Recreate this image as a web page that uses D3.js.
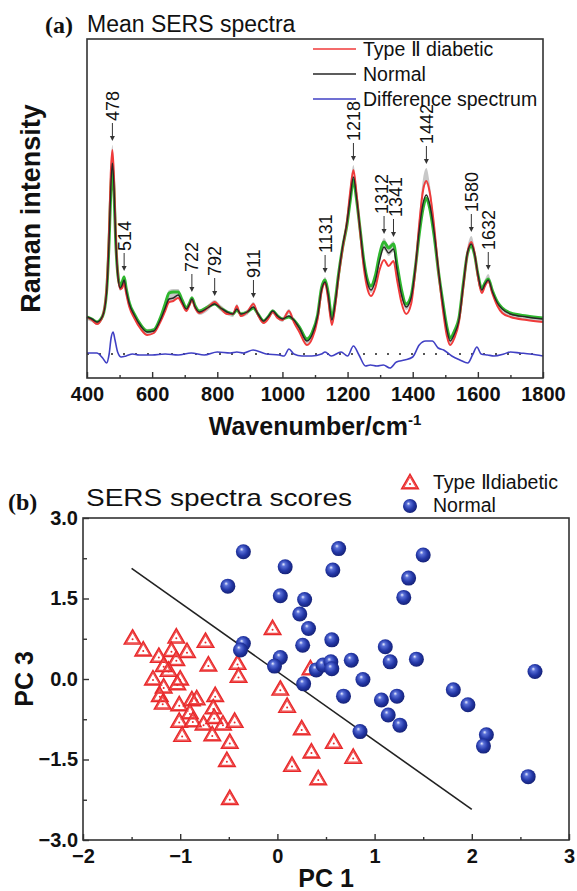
<!DOCTYPE html>
<html>
<head>
<meta charset="utf-8">
<script src="https://cdn.jsdelivr.net/npm/d3@7"></script>
<style>
  html, body { margin: 0; padding: 0; background: #fff; }
  svg { display: block; }
  text { font-family: "Liberation Sans", Arial, sans-serif; fill: #111; }
</style>
</head>
<body>
<div id="chart"></div>
<script>
// ---------- (a) mean SERS spectra ----------
const wavenumbers = [400,415,431,448,460,468,473,478,483,488,494,502,508,514,520,530,545,565,585,605,
  625,640,652,665,680,692,705,715,722,732,745,770,792,810,830,848,860,872,892,911,
  925,942,958,970,985,1000,1020,1035,1052,1075,1092,1108,1120,1131,1140,1152,1162,1172,1185,1198,
  1208,1218,1227,1238,1250,1262,1272,1285,1298,1312,1326,1341,1352,1365,1380,1395,1408,1420,1432,1442,
  1452,1465,1480,1492,1505,1515,1528,1542,1556,1568,1580,1590,1600,1612,1622,1632,1645,1660,1675,1700,1750,1800]

const normalMean = [61,59,56,62,85,140,190,215,190,140,105,90,93,98,88,74,63,52,46,47,
  58,70,79,80,83,76,69,74,79,71,66,70,74,70,66,64,69,64,66,71,
  64,57,62,67,62,59,62,58,50,37,44,62,88,96,84,58,75,102,132,155,
  180,201,182,150,115,94,88,97,117,131,125,129,108,84,71,80,110,148,175,183,
  174,148,105,75,48,37,44,58,95,125,134,124,104,88,94,98,86,75,69,64,61,59]

const diabeticMean = [61,58,54,62,88,150,205,228,200,145,106,89,90,95,85,71,60,49,43,45,
  56,67,76,77,80,74,67,73,78,70,65,70,76,70,64,64,72,62,66,74,
  63,55,60,66,60,58,67,56,46,33,40,59,86,95,80,53,72,100,130,156,
  186,208,186,148,110,88,82,90,108,118,112,117,98,76,64,74,108,154,188,197,
  186,154,104,70,42,33,40,56,93,125,136,125,102,85,92,97,84,72,65,61,58,56]

const greenTrace = [61,59,56,62,86,138,186,210,186,138,106,92,96,101,90,75,64,53,47,48,
  60,74,85,86,86,78,70,75,80,72,67,71,74,70,66,64,68,64,66,70,
  64,57,62,67,62,59,61,58,51,39,46,63,90,98,86,60,77,103,131,153,
  177,198,180,150,117,97,92,102,123,136,130,134,113,89,74,82,110,144,170,180,
  170,144,104,77,51,40,47,60,96,124,132,123,104,89,95,99,87,76,70,65,62,60]

const spreadTop = [62,60,57,63,90,155,212,233,206,150,110,94,98,103,92,77,66,55,49,50,
  62,77,88,89,89,80,72,77,82,74,68,73,78,73,68,66,74,66,68,76,
  66,59,63,69,64,61,69,60,53,41,48,66,92,101,88,62,79,106,136,160,
  192,213,190,154,120,99,94,104,126,140,133,137,115,91,76,84,116,162,200,210,
  195,160,108,79,53,41,48,62,100,131,142,130,108,92,99,104,90,78,71,66,62,60]

const diffWavenumbers = [400,430,448,460,468,474,480,486,494,505,520,540,560,600,640,680,720,760,800,840,
  860,880,910,950,990,1005,1020,1035,1060,1090,1120,1131,1150,1180,1200,1218,1235,1255,1270,1290,
  1310,1330,1350,1375,1400,1420,1440,1460,1478,1495,1520,1545,1569,1585,1597,1610,1630,1650,1680,1700,1730,1760,1800]
const diffSpectrum = [25,25,20,15,24,40,46,38,26,21,22,24,23,23,24,23,25,23,26,25,
  26,25,28,24,23,22,29,24,22,22,24,26,22,26,22,32,23,12,13,12,
  13,10,16,18,21,33,37,37,30,28,22,18,15,24,31,24,23,22,24,26,25,24,22]
const diffZero = 24

const peakLabels = [478,514,722,792,911,1131,1218,1312,1341,1442,1580,1632]
const xTicksA = [400,600,800,1000,1200,1400,1600,1800]
const xMinorA = [500,700,900,1100,1300,1500,1700]
const legendA = ["Type \u2161 diabetic", "Normal", "Difference spectrum"]

// ---------- (b) PCA scores ----------
const diabeticScores = [
  [-1.49,0.74],[-1.38,0.52],[-1.04,0.76],[-1.09,0.51],[-0.93,0.49],[-0.74,0.68],[-1.22,0.40],[-1.04,0.34],
  [-1.12,0.14],[-1.17,0.23],[-0.71,0.24],[-0.41,0.27],[-0.40,0.03],[-1.28,-0.02],[-1.00,-0.02],[-1.17,-0.17],
  [-1.03,-0.11],[-1.21,-0.33],[-1.18,-0.47],[-1.01,-0.50],[-0.88,-0.41],[-0.83,-0.39],[-0.64,-0.33],[-0.66,-0.56],
  [-0.90,-0.65],[-1.01,-0.81],[-0.87,-0.80],[-0.76,-0.86],[-0.65,-0.74],[-0.56,-0.86],[-0.44,-0.81],[-0.98,-1.07],
  [-0.67,-1.06],[-0.49,-1.20],[-0.52,-1.54],[-0.49,-2.25],[-0.05,0.92],[0.03,-0.21],[0.10,-0.53],[0.25,-0.95],
  [0.35,-1.38],[0.15,-1.63],[0.42,-1.88],[0.34,0.17],[0.58,-1.20],[0.78,-1.48]]
const normalScores = [
  [-0.35,2.37],[-0.51,1.73],[0.08,2.09],[0.03,1.55],[0.63,2.43],[1.50,2.31],[0.57,2.03],[1.35,1.88],
  [1.30,1.52],[0.28,1.48],[0.23,1.21],[0.32,0.94],[0.56,0.73],[0.26,0.63],[-0.35,0.66],[-0.38,0.54],
  [0.03,0.40],[-0.03,0.24],[1.11,0.60],[1.16,0.32],[1.43,0.37],[0.76,0.35],[0.40,0.17],[0.47,0.26],
  [0.55,0.32],[0.56,0.19],[0.88,-0.01],[0.27,-0.09],[2.65,0.14],[1.81,-0.20],[0.68,-0.32],[1.07,-0.39],
  [1.23,-0.32],[1.14,-0.67],[1.26,-0.86],[0.85,-0.98],[1.96,-0.48],[2.15,-1.04],[2.12,-1.25],[2.58,-1.82]]
const boundaryLine = [[-1.5,2.06],[2.0,-2.43]]
const xTicksB = [-2,-1,0,1,2,3]
const xMinorB = [-1.5,-0.5,0.5,1.5,2.5]
const yTicksB = [3.0,1.5,0.0,-1.5,-3.0]
const yMinorB = [2.25,0.75,-0.75,-2.25]

const W = 577, H = 891
const SERIF = "'Liberation Serif', 'DejaVu Serif', 'Times New Roman', serif"
const svg = d3.select("#chart").append("svg").attr("width", W).attr("height", H)
svg.append("rect").attr("width", W).attr("height", H).attr("fill", "#fff")

const defs = svg.append("defs")
const grad = defs.append("radialGradient").attr("id", "ball")
  .attr("cx", "45%").attr("cy", "45%").attr("r", "60%").attr("fx", "38%").attr("fy", "32%")
grad.append("stop").attr("offset", "0%").attr("stop-color", "#eef1ff")
grad.append("stop").attr("offset", "22%").attr("stop-color", "#5a70d8")
grad.append("stop").attr("offset", "60%").attr("stop-color", "#2438a8")
grad.append("stop").attr("offset", "100%").attr("stop-color", "#121d6e")

function styleAxis(g, size) {
  g.select(".domain").remove()
  g.selectAll(".tick line").attr("stroke", "#333").attr("stroke-width", 1.4)
  g.selectAll(".tick text").attr("font-size", size).attr("font-weight", "bold")
}

// ===== panel (a) =====
const A = { left: 87, right: 543, top: 39, bottom: 378 }
const xA = d3.scaleLinear().domain([400, 1800]).range([A.left, A.right])
const yA = d3.scaleLinear().domain([0, 339]).range([A.bottom, A.top])

const lineA = (vals, xs) => d3.line()
  .x((d, i) => xA(xs[i])).y(d => yA(d))
  .curve(d3.curveMonotoneX)(vals)

// grey spread only shows above the mean curves
const areaSpread = d3.area()
  .x((d, i) => xA(wavenumbers[i]))
  .y0((d, i) => yA(Math.max(normalMean[i], diabeticMean[i]) - 3))
  .y1(d => yA(d))
  .curve(d3.curveMonotoneX)

const gA = svg.append("g")
gA.append("path").attr("d", areaSpread(spreadTop)).attr("fill", "#c8c8c8")
gA.append("path").attr("d", lineA(greenTrace, wavenumbers)).attr("fill", "none")
  .attr("stroke", "#2fb82f").attr("stroke-width", 3)
gA.append("path").attr("d", lineA(diabeticMean, wavenumbers)).attr("fill", "none")
  .attr("stroke", "#f03a3a").attr("stroke-width", 2)
gA.append("path").attr("d", lineA(normalMean, wavenumbers)).attr("fill", "none")
  .attr("stroke", "#262626").attr("stroke-width", 1.4)

// difference spectrum + zero line
gA.append("line").attr("x1", xA(400)).attr("x2", xA(1800))
  .attr("y1", yA(diffZero)).attr("y2", yA(diffZero))
  .attr("stroke", "#555").attr("stroke-width", 2).attr("stroke-dasharray", "2,10")
gA.append("path").attr("d", lineA(diffSpectrum, diffWavenumbers)).attr("fill", "none")
  .attr("stroke", "#4040c4").attr("stroke-width", 1.6)

// peak labels with arrows (two close labels pushed apart a little)
const labelNudge = { 1312: -2.5, 1341: 2.5 }
peakLabels.forEach(p => {
  const i = d3.bisectCenter(wavenumbers, p)
  const x = xA(p)
  const tx = x + (labelNudge[p] || 0)
  const tip = yA(spreadTop[i]) - 4
  const base = tip - 20
  gA.append("line").attr("x1", x).attr("x2", x).attr("y1", base + 2).attr("y2", tip - 4)
    .attr("stroke", "#333").attr("stroke-width", 1)
  gA.append("path").attr("d", `M${x - 2.5},${tip - 5}L${x + 2.5},${tip - 5}L${x},${tip}Z`).attr("fill", "#333")
  gA.append("text").attr("transform", `translate(${tx},${base}) rotate(-90)`)
    .attr("dy", "0.36em").attr("font-size", 18).text(p)
})

// axes (a)
const axA = gA.append("g").attr("transform", `translate(0,${A.bottom})`)
  .call(d3.axisBottom(xA).tickValues(xTicksA).tickSize(-6).tickPadding(9).tickFormat(d3.format("d")))
styleAxis(axA, 20)
const axAm = gA.append("g").attr("transform", `translate(0,${A.bottom})`)
  .call(d3.axisBottom(xA).tickValues(xMinorA).tickSize(-3).tickFormat(""))
styleAxis(axAm, 20)
gA.append("rect").attr("x", A.left).attr("y", A.top).attr("width", A.right - A.left).attr("height", A.bottom - A.top)
  .attr("fill", "none").attr("stroke", "#333").attr("stroke-width", 1.6)

// legend (a)
const legColors = ["#f03a3a", "#262626", "#4040c4"]
legendA.forEach((t, i) => {
  const y = 49 + i * 25
  gA.append("line").attr("x1", 313).attr("x2", 356).attr("y1", y).attr("y2", y)
    .attr("stroke", legColors[i]).attr("stroke-width", 1.6)
  gA.append("text").attr("x", 363).attr("y", y + 7).attr("font-size", 19.5).text(t)
})

// titles (a)
svg.append("text").attr("x", 45).attr("y", 33).style("font-family", SERIF)
  .attr("font-weight", "bold").attr("font-size", 24).text("(a)")
svg.append("text").attr("x", 87).attr("y", 32).attr("font-size", 23).text("Mean SERS spectra")
svg.append("text").attr("transform", `translate(40,${(A.top + A.bottom) / 2}) rotate(-90)`)
  .attr("text-anchor", "middle").attr("font-size", 27).attr("font-weight", "bold").text("Raman intensity")
const xl = svg.append("text").attr("x", (A.left + A.right) / 2).attr("y", 435)
  .attr("text-anchor", "middle").attr("font-size", 25).attr("font-weight", "bold")
xl.append("tspan").text("Wavenumber/cm")
xl.append("tspan").attr("dy", -10).attr("font-size", 15).text("-1")

// ===== panel (b) =====
const B = { left: 83, right: 569, top: 518, bottom: 840 }
const xB = d3.scaleLinear().domain([-2, 3]).range([B.left, B.right])
const yB = d3.scaleLinear().domain([-3, 3]).range([B.bottom, B.top])
const gB = svg.append("g")

gB.append("line")
  .attr("x1", xB(boundaryLine[0][0])).attr("y1", yB(boundaryLine[0][1]))
  .attr("x2", xB(boundaryLine[1][0])).attr("y2", yB(boundaryLine[1][1]))
  .attr("stroke", "#222").attr("stroke-width", 1.6)

const triOuter = d3.symbol(d3.symbolTriangle, 118)()
const triInner = d3.symbol(d3.symbolTriangle, 70)()
function drawTri(g, x, y) {
  const t = g.append("g").attr("transform", `translate(${x},${y})`)
  t.append("path").attr("d", triOuter).attr("fill", "none").attr("stroke", "#e8282a").attr("stroke-width", 1.6)
  t.append("path").attr("d", triInner).attr("fill", "none").attr("stroke", "#ef4a4a").attr("stroke-width", 1.2)
  t.append("circle").attr("r", 1).attr("fill", "#e8282a")
}
diabeticScores.forEach(d => drawTri(gB, xB(d[0]), yB(d[1])))

gB.selectAll(".ball").data(normalScores).join("circle").attr("class", "ball")
  .attr("cx", d => xB(d[0])).attr("cy", d => yB(d[1])).attr("r", 7.5)
  .attr("fill", "url(#ball)")

// axes (b)
const axBx = gB.append("g").attr("transform", `translate(0,${B.bottom})`)
  .call(d3.axisBottom(xB).tickValues(xTicksB).tickSize(-6).tickPadding(9).tickFormat(d3.format("d")))
styleAxis(axBx, 20)
const axBxm = gB.append("g").attr("transform", `translate(0,${B.bottom})`)
  .call(d3.axisBottom(xB).tickValues(xMinorB).tickSize(-3).tickFormat(""))
styleAxis(axBxm, 20)
const axBy = gB.append("g").attr("transform", `translate(${B.left},0)`)
  .call(d3.axisLeft(yB).tickValues(yTicksB).tickSize(-6).tickPadding(5).tickFormat(d3.format(".1f")))
styleAxis(axBy, 20)
const axBym = gB.append("g").attr("transform", `translate(${B.left},0)`)
  .call(d3.axisLeft(yB).tickValues(yMinorB).tickSize(-4).tickFormat(""))
styleAxis(axBym, 20)
gB.append("rect").attr("x", B.left).attr("y", B.top).attr("width", B.right - B.left).attr("height", B.bottom - B.top)
  .attr("fill", "none").attr("stroke", "#333").attr("stroke-width", 1.6)

// legend (b)
drawTri(svg, 410, 484)
svg.append("circle").attr("cx", 410).attr("cy", 506).attr("r", 7).attr("fill", "url(#ball)")
svg.append("text").attr("x", 433).attr("y", 489).attr("font-size", 19.5).text("Type \u2161diabetic")
svg.append("text").attr("x", 433).attr("y", 512).attr("font-size", 19.5).text("Normal")

// titles (b)
svg.append("text").attr("x", 8).attr("y", 510).style("font-family", SERIF)
  .attr("font-weight", "bold").attr("font-size", 24).text("(b)")
svg.append("text").attr("x", 86).attr("y", 506).attr("font-size", 24)
  .attr("textLength", 266).attr("lengthAdjust", "spacingAndGlyphs").text("SERS spectra scores")
svg.append("text").attr("x", (B.left + B.right) / 2).attr("y", 887).attr("text-anchor", "middle")
  .attr("font-size", 25).attr("font-weight", "bold").text("PC 1")
svg.append("text").attr("transform", `translate(33,${(B.top + B.bottom) / 2}) rotate(-90)`)
  .attr("text-anchor", "middle").attr("font-size", 25).attr("font-weight", "bold").text("PC 3")
</script>
</body>
</html>
